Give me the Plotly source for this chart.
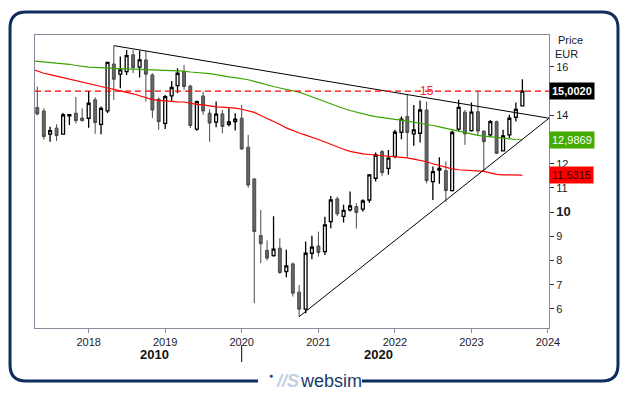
import plotly.graph_objects as go
import pandas as pd

# ---------------- data ----------------
dates = pd.date_range("2017-05-01", "2023-09-01", freq="MS")
opens = [14.32, 14.18, 13.22, 13.47, 13.22, 13.98, 14.09, 13.89, 13.88, 14.64, 13.63, 14.18,
         16.12, 15.70, 15.81, 16.50, 15.99, 16.29, 15.67, 14.67, 13.67, 14.80, 15.23, 15.81,
         15.21, 13.43, 14.80, 14.09, 13.72, 14.06, 13.63, 13.74, 13.88, 12.68, 11.37, 9.03,
         8.42, 8.20, 8.51, 7.54, 7.86, 6.69, 5.99, 8.30, 8.60, 8.37, 9.61, 10.55,
         9.82, 10.09, 10.23, 10.12, 10.50, 11.40, 12.50, 11.81, 12.30, 13.30, 13.95, 13.23,
         13.26, 14.22, 11.26, 11.74, 11.71, 10.89, 13.43, 14.13, 13.37, 14.15, 13.35, 13.19,
         13.74, 12.53, 13.19, 13.92, 14.39]
highs = [15.19, 14.29, 13.53, 13.63, 14.10, 14.06, 14.76, 14.29, 15.01, 14.75, 14.36, 16.20,
         16.88, 16.43, 16.70, 16.70, 16.67, 16.67, 15.74, 14.73, 14.84, 15.42, 15.95, 16.08,
         15.26, 14.61, 14.98, 14.25, 14.57, 14.22, 14.29, 14.09, 14.43, 13.19, 11.40, 10.09,
         8.83, 9.83, 8.92, 8.44, 7.92, 6.99, 8.78, 9.02, 9.19, 9.81, 10.67, 10.64,
         10.30, 10.85, 10.37, 10.53, 11.58, 12.46, 12.57, 12.57, 13.40, 13.95, 14.88, 14.43,
         14.61, 14.57, 11.88, 12.27, 12.09, 13.37, 14.64, 14.22, 14.53, 14.98, 13.36, 13.81,
         13.78, 13.40, 14.02, 14.53, 15.49]
lows = [14.00, 13.00, 12.91, 12.94, 13.20, 13.60, 13.67, 13.75, 13.49, 13.24, 13.22, 14.10,
        14.64, 15.12, 15.67, 15.74, 15.56, 14.57, 13.88, 13.40, 13.44, 14.60, 14.91, 15.05,
        13.47, 13.36, 14.02, 12.91, 13.51, 13.26, 13.54, 13.37, 12.58, 11.01, 6.24, 7.89,
        8.00, 8.16, 7.45, 7.31, 6.51, 5.68, 5.82, 8.05, 8.16, 8.23, 9.33, 9.84,
        9.57, 10.02, 9.32, 10.02, 10.39, 11.26, 11.50, 11.54, 12.23, 13.01, 12.27, 12.74,
        12.88, 11.19, 10.50, 11.17, 10.43, 10.85, 13.33, 12.78, 13.33, 13.15, 11.67, 13.10,
        12.40, 12.50, 13.05, 13.74, 14.36]
closes = [14.06, 13.12, 13.37, 13.16, 14.02, 14.03, 13.78, 13.78, 14.50, 13.70, 14.29, 16.19,
          15.49, 15.88, 16.47, 15.97, 16.29, 15.70, 14.22, 13.74, 14.77, 15.15, 15.74, 15.19,
          13.58, 14.57, 14.18, 13.68, 14.05, 13.54, 13.73, 13.84, 12.61, 11.12, 9.20, 8.69,
          8.10, 8.47, 7.50, 7.78, 6.65, 5.99, 8.30, 8.55, 8.33, 9.47, 10.50, 9.93,
          10.07, 10.26, 9.98, 10.46, 11.54, 12.36, 11.63, 12.23, 13.30, 13.84, 13.29, 13.40,
          14.22, 11.30, 11.67, 11.81, 10.89, 13.29, 14.33, 13.23, 14.13, 13.35, 12.91, 13.74,
          12.43, 13.15, 13.88, 14.25, 15.00]

ma_dates = pd.date_range("2017-04-01", "2023-09-01", freq="MS")
ma_green = [16.26, 16.24, 16.21, 16.19, 16.17, 16.16, 16.11, 16.06, 16.02, 15.99, 15.98, 15.96,
            15.95, 15.94, 15.93, 15.92, 15.91, 15.91, 15.91, 15.90, 15.88, 15.85, 15.84, 15.84,
            15.83, 15.79, 15.77, 15.75, 15.72, 15.68, 15.63, 15.59, 15.56, 15.52, 15.47, 15.40,
            15.34, 15.26, 15.19, 15.13, 15.07, 15.03, 14.96, 14.86, 14.76, 14.67, 14.57, 14.47,
            14.37, 14.28, 14.20, 14.13, 14.06, 14.00, 13.95, 13.90, 13.86, 13.83, 13.80, 13.76,
            13.73, 13.69, 13.64, 13.58, 13.52, 13.46, 13.40, 13.32, 13.26, 13.21, 13.17, 13.14,
            13.11, 13.07, 13.04, 13.02, 13.00, 12.99]
ma_red = [15.92, 15.83, 15.74, 15.68, 15.62, 15.57, 15.50, 15.44, 15.38, 15.31, 15.25, 15.19,
          15.13, 15.07, 15.02, 14.97, 14.89, 14.81, 14.74, 14.65, 14.62, 14.59, 14.57, 14.56,
          14.55, 14.50, 14.45, 14.43, 14.38, 14.35, 14.34, 14.33, 14.30, 14.25, 14.19, 14.12,
          13.99, 13.87, 13.77, 13.62, 13.48, 13.36, 13.27, 13.18, 13.10, 13.00, 12.90, 12.80,
          12.69, 12.60, 12.51, 12.45, 12.41, 12.38, 12.36, 12.33, 12.30, 12.27, 12.26, 12.24,
          12.19, 12.14, 12.08, 12.00, 11.93, 11.85, 11.79, 11.75, 11.73, 11.71, 11.70, 11.68,
          11.62, 11.56, 11.54, 11.54, 11.54, 11.53]

trend_down_x = ["2018-05-01", "2024-01-06"]
trend_down_y = [16.88, 13.88]
trend_up_x = ["2020-10-01", "2024-01-06"]
trend_up_y = [5.68, 13.88]
level_15 = 15.0

last_price_label = "15,0020"
green_label = "12,9869"
red_label = "11,5315"

year_ticks = ["2018", "2019", "2020", "2021", "2022", "2023", "2024"]
price_ticks = [6, 7, 8, 9, 10, 11, 12, 14, 16]

# ---------------- figure ----------------
OFF = 8  # page body margin
W, H = 629, 395
ML, MT = 35 - OFF, 35 - OFF
PW, PH = 514, 293
MR = W - ML - PW
MB = H - MT - PH
FONT = "Arial, Liberation Sans, sans-serif"


def px(x):
    # reference pixel x -> paper coordinate
    return (x - OFF - ML) / PW


def py(y):
    return 1 - (y - OFF - MT) / PH


def P(x, y):
    return f"{px(x):.4f},{py(y):.4f}"


fig = go.Figure()

fig.add_trace(go.Scatter(x=ma_dates, y=ma_green, mode="lines",
                         line=dict(color="#3aa500", width=1.2), hoverinfo="skip"))
fig.add_trace(go.Scatter(x=ma_dates, y=ma_red, mode="lines",
                         line=dict(color="#ff0000", width=1.2), hoverinfo="skip"))
fig.add_trace(go.Scatter(x=trend_down_x, y=trend_down_y, mode="lines",
                         line=dict(color="#000000", width=1), hoverinfo="skip"))
fig.add_trace(go.Scatter(x=trend_up_x, y=trend_up_y, mode="lines",
                         line=dict(color="#000000", width=1), hoverinfo="skip"))

fig.add_trace(go.Candlestick(
    x=dates, open=opens, high=highs, low=lows, close=closes,
    increasing=dict(fillcolor="#ffffff", line=dict(color="#000000", width=1.3)),
    decreasing=dict(fillcolor="#666666", line=dict(color="#4a4a4a", width=1)),
    whiskerwidth=0,
))

fig.add_hline(y=level_15, line=dict(color="#ff0000", width=1.2, dash="6px,4px"))

ticktext = []
for v in price_ticks:
    if v == 10:
        ticktext.append('<b><span style="font-size:13px">10</span></b>')
    else:
        ticktext.append(str(v))

fig.update_layout(
    width=W, height=H, autosize=False,
    margin=dict(l=ML, r=MR, t=MT, b=MB),
    paper_bgcolor="white", plot_bgcolor="white",
    showlegend=False,
    font=dict(family=FONT, size=11, color="#1a1a2a"),
    xaxis=dict(
        type="date", range=["2017-04-20", "2024-01-06"],
        rangeslider=dict(visible=False),
        tickvals=[f"{y}-01-01" for y in year_ticks], ticktext=year_ticks,
        ticks="outside", ticklen=4, tickcolor="#8a8a9a",
        showgrid=False, zeroline=False,
        showline=True, mirror=True, linecolor="#8a8a9a", linewidth=1,
        tickfont=dict(size=11, color="#1a1a2a"),
    ),
    yaxis=dict(
        side="right", range=[5.21, 17.32],
        tickvals=price_ticks, ticktext=ticktext,
        ticks="outside", ticklen=4, tickcolor="#333",
        showgrid=False, zeroline=False,
        showline=True, mirror=True, linecolor="#8a8a9a", linewidth=1,
        tickfont=dict(size=11, color="#1a1a2a"),
    ),
)

ann = []
# 15 label on dashed line
ann.append(dict(x="2022-06-05", y=level_15, xref="x", yref="y", text="15",
                yanchor="middle", showarrow=False,
                font=dict(color="#ff2020", size=12, family=FONT)))
# price / eur header
ann.append(dict(x=px(556), y=py(40), xref="paper", yref="paper", text="Price",
                xanchor="left", yanchor="middle", showarrow=False,
                font=dict(size=11, family=FONT, color="#1a1a2a")))
ann.append(dict(x=px(553), y=py(54), xref="paper", yref="paper", text="EUR",
                xanchor="left", yanchor="middle", showarrow=False,
                font=dict(size=11, family=FONT, color="#1a1a2a")))
# value labels
ann.append(dict(x=1.0, y=closes[-1], xref="paper", yref="y", text=f"<b>{last_price_label}</b>",
                xanchor="left", yanchor="middle", showarrow=False, bgcolor="#000000", borderpad=2,
                font=dict(size=11, color="#ffffff", family=FONT)))
ann.append(dict(x=1.0, y=ma_green[-1], xref="paper", yref="y", text=green_label,
                xanchor="left", yanchor="middle", showarrow=False, bgcolor="#44aa00", borderpad=2,
                font=dict(size=11, color="#ffffff", family=FONT)))
ann.append(dict(x=1.0, y=ma_red[-1], xref="paper", yref="y", text=red_label,
                xanchor="left", yanchor="middle", showarrow=False, bgcolor="#ff0000", borderpad=2,
                font=dict(size=11, color="#3a0000", family=FONT)))
# decade labels
ann.append(dict(x=px(138), y=py(354), xref="paper", yref="paper", text="<b>2010</b>",
                yanchor="middle", showarrow=False, font=dict(size=13, family=FONT, color="#111")))
ann.append(dict(x=px(395), y=py(354), xref="paper", yref="paper", text="<b>2020</b>",
                yanchor="middle", showarrow=False, font=dict(size=13, family=FONT, color="#111")))
# logo
ann.append(dict(x=px(271), y=py(375), xref="paper", yref="paper", text="●",
                yanchor="middle", showarrow=False, font=dict(size=7, family=FONT, color="#1b3a6b")))
ann.append(dict(x=px(287), y=py(381), xref="paper", yref="paper", text="<b><i>//S</i></b>",
                yanchor="middle", showarrow=False, font=dict(size=18, family=FONT, color="#c2d0e2")))
ann.append(dict(x=px(331), y=py(381), xref="paper", yref="paper", text="websim",
                yanchor="middle", showarrow=False, font=dict(size=18, family=FONT, color="#1b3a6b")))
fig.update_layout(annotations=ann)

# decade separator
fig.add_shape(type="line", xref="x", yref="paper", x0="2020-01-01", x1="2020-01-01",
              y0=py(345), y1=py(362), line=dict(color="#000", width=1))

# outer rounded frame, broken at bottom for logo
r = 16
path = (f"M{P(258,381)} L{P(10+r,381)} Q{P(10,381)} {P(10,381-r)} L{P(10,12+r)} "
        f"Q{P(10,12)} {P(10+r,12)} L{P(618-r,12)} Q{P(618,12)} {P(618,12+r)} "
        f"L{P(618,381-r)} Q{P(618,381)} {P(618-r,381)} L{P(362,381)}")
fig.add_shape(type="path", xref="paper", yref="paper", path=path,
              line=dict(color="#0f2d5e", width=3))

fig.write_html("out.html")
